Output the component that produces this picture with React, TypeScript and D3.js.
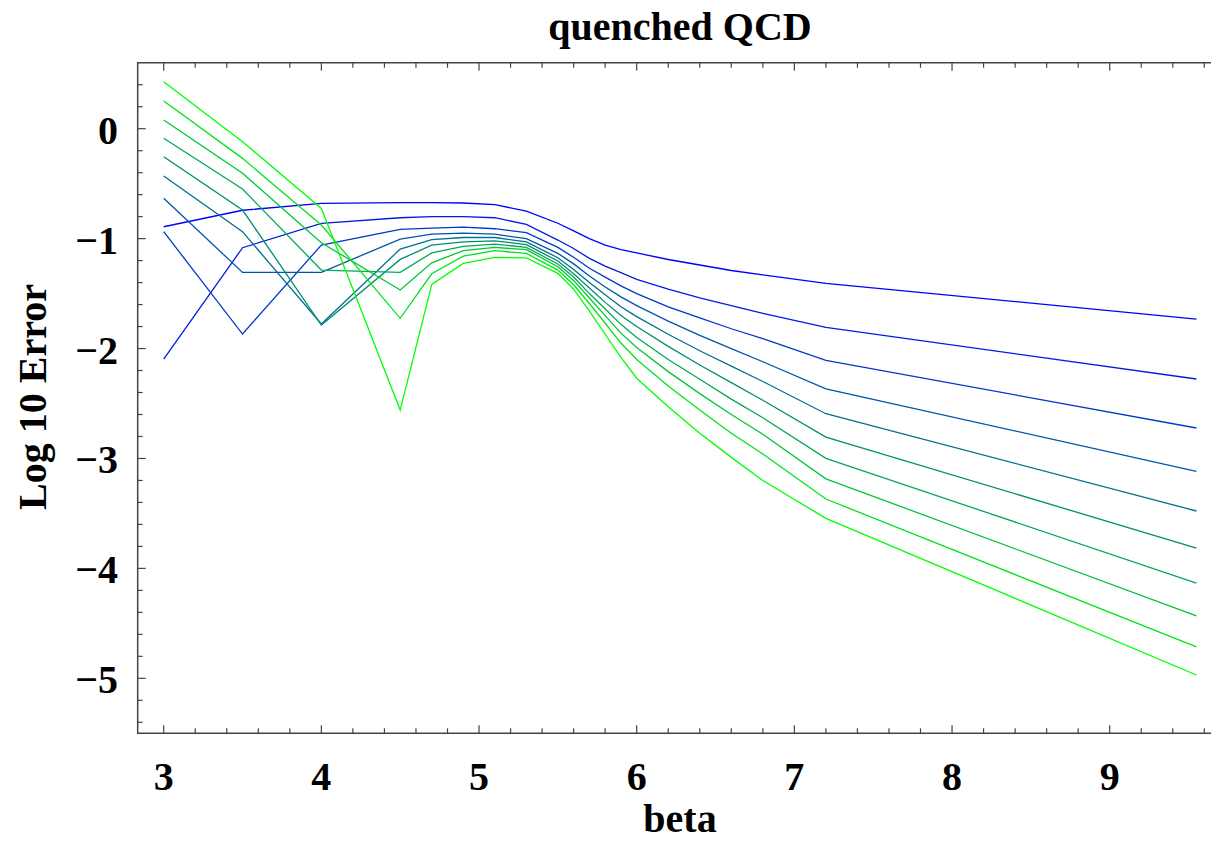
import React from 'react';
import * as d3 from 'd3';

// beta grid shared by all ten curves
const betas = [3, 3.5, 4, 4.5, 4.7, 4.9, 5.1, 5.3, 5.5, 5.6, 5.7, 5.8, 5.9, 6.0, 6.2, 6.4, 6.6, 6.8, 7.2, 9.55];

// log10 error, top (blue) to bottom (green)
const series0 = [-0.892, -0.742, -0.679, -0.673, -0.673, -0.676, -0.69, -0.75, -0.86, -0.93, -1.0, -1.06, -1.1, -1.13, -1.19, -1.24, -1.29, -1.33, -1.407, -1.732];
const series1 = [-2.096, -1.083, -0.861, -0.81, -0.8, -0.8, -0.81, -0.87, -1.013, -1.09, -1.18, -1.25, -1.31, -1.37, -1.46, -1.54, -1.61, -1.68, -1.807, -2.277];
const series2 = [-0.937, -1.868, -1.058, -0.916, -0.905, -0.895, -0.91, -0.946, -1.08, -1.17, -1.27, -1.35, -1.43, -1.5, -1.62, -1.72, -1.82, -1.91, -2.107, -2.723];
const series3 = [-0.633, -1.307, -1.307, -1.004, -0.96, -0.95, -0.96, -1.0, -1.134, -1.23, -1.34, -1.44, -1.53, -1.61, -1.75, -1.88, -2.0, -2.12, -2.366, -3.117];
const series4 = [-0.43, -0.937, -1.777, -1.095, -1.01, -0.99, -0.99, -1.03, -1.174, -1.28, -1.4, -1.51, -1.62, -1.71, -1.87, -2.02, -2.16, -2.3, -2.593, -3.478];
const series5 = [-0.255, -0.74, -1.786, -1.189, -1.06, -1.03, -1.02, -1.055, -1.204, -1.32, -1.45, -1.58, -1.7, -1.8, -1.98, -2.15, -2.31, -2.47, -2.805, -3.815];
const series6 = [-0.087, -0.549, -1.286, -1.307, -1.13, -1.07, -1.05, -1.08, -1.231, -1.35, -1.5, -1.64, -1.78, -1.9, -2.1, -2.28, -2.46, -2.63, -2.999, -4.134];
const series7 = [0.079, -0.406, -1.037, -1.468, -1.22, -1.11, -1.08, -1.1, -1.256, -1.38, -1.54, -1.7, -1.86, -1.99, -2.21, -2.41, -2.6, -2.78, -3.185, -4.433];
const series8 = [0.252, -0.27, -0.876, -1.725, -1.32, -1.16, -1.11, -1.134, -1.286, -1.42, -1.59, -1.77, -1.95, -2.1, -2.34, -2.56, -2.77, -2.96, -3.369, -4.715];
const series9 = [0.428, -0.118, -0.725, -2.56, -1.416, -1.225, -1.17, -1.175, -1.316, -1.46, -1.66, -1.87, -2.08, -2.27, -2.53, -2.77, -2.99, -3.2, -3.545, -4.97];

const allSeries = [series0, series1, series2, series3, series4, series5, series6, series7, series8, series9];

const xTickLabels = [3, 4, 5, 6, 7, 8, 9];
const yTickLabels = [0, -1, -2, -3, -4, -5];

const W = 1211;
const H = 844;
const FONT = '"Liberation Serif", "Times New Roman", serif';

export default function App() {
  const x = d3.scaleLinear().domain([3, 9]).range([163.7, 1109.7]);
  const y = d3.scaleLinear().domain([0, -5]).range([128.7, 678.3]);

  const left = x(2.835);
  const right = x(9.75);
  const top = y(0.6);
  const bottom = y(-5.5);

  const color = d3.interpolateRgb('rgb(0,0,255)', 'rgb(0,255,0)');

  const line = d3.line<[number, number]>()
    .x(d => x(d[0]))
    .y(d => y(d[1]));

  // ticks every 0.2
  const xTicks = d3.range(15, 49).map(i => i / 5); // 3.0 .. 9.6
  const yTicks = d3.range(-27, 3).map(i => i / 5); // -5.4 .. 0.4

  const isMajor = (v: number) => Math.abs(v - Math.round(v)) < 1e-6;

  return (
    <svg width={W} height={H} style={{ position: 'absolute', left: 0, top: 0, background: '#fff' }}>
      <text x={680} y={40} textAnchor="middle" fontFamily={FONT} fontWeight="bold" fontSize={40}>
        quenched QCD
      </text>

      {allSeries.map((s, i) => (
        <path
          key={i}
          d={line(betas.map((b, j) => [b, s[j]] as [number, number])) || ''}
          fill="none"
          stroke={color(i / 9)}
          strokeWidth={1.3}
        />
      ))}

      {/* frame */}
      <rect x={left} y={top} width={right - left} height={bottom - top} fill="none" stroke="#444" strokeWidth={1.5} />

      {xTicks.map(v => {
        const len = isMajor(v) ? 8 : 5;
        return (
          <g key={'x' + v}>
            <line x1={x(v)} x2={x(v)} y1={bottom} y2={bottom - len} stroke="#444" strokeWidth={1.2} />
            <line x1={x(v)} x2={x(v)} y1={top} y2={top + len} stroke="#444" strokeWidth={1.2} />
          </g>
        );
      })}
      {yTicks.map(v => {
        const len = isMajor(v) ? 8 : 5;
        return <line key={'y' + v} x1={left} x2={left + len} y1={y(v)} y2={y(v)} stroke="#444" strokeWidth={1.2} />;
      })}

      {xTickLabels.map(v => (
        <text key={'xl' + v} x={x(v)} y={790} textAnchor="middle" fontFamily={FONT} fontWeight="bold" fontSize={40}>
          {v}
        </text>
      ))}
      {yTickLabels.map(v => (
        <text key={'yl' + v} x={118} y={y(v) + 15} textAnchor="end" fontFamily={FONT} fontWeight="bold" fontSize={40}>
          {v < 0 ? '\u2212' + Math.abs(v) : v}
        </text>
      ))}

      <text x={680} y={832} textAnchor="middle" fontFamily={FONT} fontWeight="bold" fontSize={40}>
        beta
      </text>
      <text
        transform={`translate(46,397) rotate(-90)`}
        textAnchor="middle"
        fontFamily={FONT}
        fontWeight="bold"
        fontSize={40}
      >
        Log 10 Error
      </text>
    </svg>
  );
}
